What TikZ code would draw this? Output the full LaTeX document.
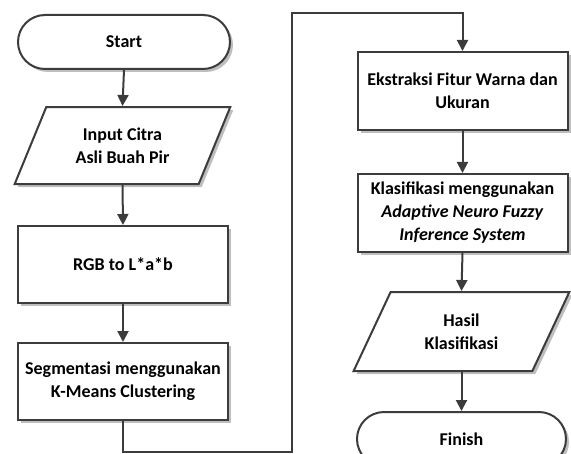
\documentclass[tikz,border=0pt]{standalone}
\usepackage{fontspec}
\setmainfont{Carlito}
\usetikzlibrary{shapes.geometric, arrows.meta, positioning, shadows}
\definecolor{cLine}{RGB}{60,60,60}
\definecolor{cShadow}{RGB}{190,190,190}
\tikzset{
  basebox/.style={draw=cLine, line width=2pt, fill=white, align=center,
                  font=\fontsize{18}{23}\selectfont\bfseries, inner sep=2pt,
                  drop shadow={shadow xshift=3pt, shadow yshift=-3pt,
                               fill=cShadow, opacity=1}},
  procnode/.style={basebox, rectangle, minimum width=210pt,
                   minimum height=77pt},
  termnode/.style={basebox, rectangle, rounded corners=27pt,
                   minimum width=212pt, minimum height=54pt},
  ionode/.style={basebox, trapezium, trapezium left angle=63,
                 trapezium right angle=117, trapezium stretches=true,
                 minimum width=216pt, minimum height=77pt},
  arrow/.style={-{Triangle[length=11pt, width=11pt]}, line width=2pt,
                color=cLine}
}

\begin{document}
\begin{tikzpicture}[node distance=38pt]

  \useasboundingbox (0,0) rectangle (571pt,-454pt);

  % ── Left column ──
  \node[termnode] (start) at (124pt,-42pt) {Start};

  \node[ionode, below=36pt of start, xshift=-1.5pt] (input)
      {Input Citra\\Asli Buah Pir};

  \node[procnode, below=40pt of input, xshift=0.5pt] (rgb)
      {RGB to L*a*b};

  \node[procnode, below=of rgb] (segment)
      {Segmentasi menggunakan\\K-Means Clustering};

  % ── Right column ──
  \node[procnode, minimum height=78pt] (ekstraksi) at (462.5pt,-91pt)
      {Ekstraksi Fitur Warna dan\\Ukuran};

  \node[procnode, minimum height=78pt, below=42pt of ekstraksi] (anfis)
      {Klasifikasi menggunakan\\\textit{Adaptive Neuro Fuzzy}\\
       \textit{Inference System}};

  \node[ionode, minimum height=79pt, below=of anfis, xshift=-1pt] (hasil)
      {Hasil\\Klasifikasi};

  \node[termnode, minimum width=209pt, below=39pt of hasil] (finish)
      {Finish};

  % ── Turn from left to right ──
  \coordinate (lowturn) at (292pt,-452pt);
  \coordinate (highturn) at (292pt,-13pt);

  \draw[arrow] (start.south) -- (input.north);
  \draw[arrow] (input.south) -- (rgb.north);
  \draw[arrow] (rgb.south) -- (segment.north);
  \draw[arrow] (segment.south) |- (lowturn) |- (highturn) -| (ekstraksi.north);
  \draw[arrow] (ekstraksi.south) -- (anfis.north);
  \draw[arrow] (anfis.south) -- (hasil.north);
  \draw[arrow] (hasil.south) -- (finish.north);

\end{tikzpicture}
\end{document}
